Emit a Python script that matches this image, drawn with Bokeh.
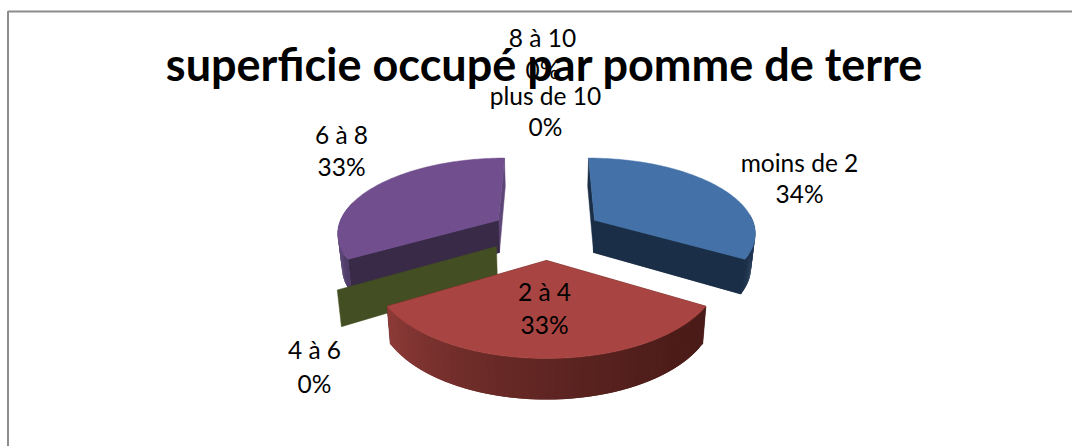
import math
from bokeh.plotting import figure
from bokeh.models import Range1d
from bokeh.core.properties import value
from bokeh.embed import file_html
from bokeh.resources import INLINE

title = "superficie occupé par pomme de terre"
categories = ["moins de 2", "2 à 4", "4 à 6", "6 à 8", "8 à 10", "plus de 10"]
shares = [33.5, 33.0, 0, 33.5, 0, 0]
percent_labels = ["34%", "33%", "0%", "33%", "0%", "0%"]
top_colors = ["#4472A8", "#A84441", "#434F22", "#714F8E", "#000000", "#000000"]
cut_colors = ["#1B2E47", "#471B18", "#434F22", "#392A47", "#000000", "#000000"]
inner_colors = ["#1B2E47", "#471B18", "#434F22", "#5F4678", "#000000", "#000000"]
label_pos = [(799, 162, 193), (544, 290.5, 323.5), (314, 349, 383), (341, 134, 166), (542, 37, 69), (545, 95, 126)]

CX, CY, A, B, PERSP, EXPLODE, DEPTH, SHRINK = 546, 232.4, 162, 74.7, 0.146, 0.35, 33, 0.98
FONT = "Lato"


def proj(x, y):
    w = 1 / (1 - PERSP * y)
    return CX + A * x * w, CY + B * y * w, w


def pt(ax, ay, a):
    return ax + math.sin(a), ay - math.cos(a)


def lower(x, y):
    sx, sy, w = proj(x, y)
    return CX + (sx - CX) * SHRINK, sy + DEPTH * w


def hexmix(c1, c2, t):
    v1 = [int(c1[i:i + 2], 16) for i in (1, 3, 5)]
    v2 = [int(c2[i:i + 2], 16) for i in (1, 3, 5)]
    return "#%02x%02x%02x" % tuple(round(a + (b - a) * t) for a, b in zip(v1, v2))


p = figure(width=1072, height=446, x_range=Range1d(0, 1072), y_range=Range1d(446, 0),
           output_backend="svg", toolbar_location=None, min_border=0, outline_line_color=None)
p.xaxis.visible = False
p.yaxis.visible = False
p.xgrid.visible = False
p.ygrid.visible = False

# chart frame, open to the right and the bottom of the picture
p.line([7.5, 7.5, 1072], [446, 11, 11], line_color="#8C8C8C", line_width=2)

total = sum(shares)
spans = []
run = 0.0
for s in shares:
    a0 = run / total * 2 * math.pi
    run += s
    spans.append((a0, run / total * 2 * math.pi))


def wall(p1, p2, color):
    a, b = proj(*p1)[:2], proj(*p2)[:2]
    c, d = lower(*p2), lower(*p1)
    p.patch([a[0], b[0], c[0], d[0]], [a[1], b[1], c[1], d[1]], fill_color=color, line_color=color, line_width=0.5)


def draw_slice(i, rim_start, rim_end):
    a0, a1 = spans[i]
    mid = (a0 + a1) / 2
    ax, ay = EXPLODE * math.sin(mid), -EXPLODE * math.cos(mid)
    start = pt(ax, ay, a0)
    end = pt(ax, ay, a1)
    # flat cut faces
    wall(start, (ax, ay), inner_colors[i])
    wall(end, (ax, ay), inner_colors[i])
    if i == 0:
        wall(end, (ax, ay), cut_colors[i])
    if i == 3:
        wall(start, (ax, ay), cut_colors[i])
    # rim, in shaded strips that overlap so no seams show
    lo = max(a0, math.radians(rim_start[0]))
    hi = min(a1, math.radians(rim_end[0]))
    n = 48
    step = (hi - lo) / n
    xs, ys, cols = [], [], []
    for k in range(n):
        t0 = lo + step * k
        t1 = min(hi, t0 + step * 2)
        q0, q1 = pt(ax, ay, t0), pt(ax, ay, t1)
        a, b = proj(*q0)[:2], proj(*q1)[:2]
        c, d = lower(*q1), lower(*q0)
        xs.append([a[0], b[0], c[0], d[0]])
        ys.append([a[1], b[1], c[1], d[1]])
        frac = k / (n - 1)
        if i == 1:
            col = hexmix("#4A1B18", "#8C3A37", frac ** 1.6)
        else:
            col = hexmix(rim_start[1], rim_end[1], frac)
        cols.append(col)
    p.patches(xs, ys, fill_color=cols, line_color=None)
    # top face
    m = 96
    tx, ty = [proj(ax, ay)[0]], [proj(ax, ay)[1]]
    for k in range(m + 1):
        q = pt(ax, ay, a0 + (a1 - a0) * k / m)
        s = proj(*q)
        tx.append(s[0])
        ty.append(s[1])
    p.patch(tx, ty, fill_color=top_colors[i], line_color=top_colors[i], line_width=0.5)


draw_slice(3, (237, "#4E3A66"), (285, "#6B5389"))
a0, a1 = spans[2]
gx, gy = EXPLODE * math.sin(a0), -EXPLODE * math.cos(a0)
wall((gx, gy), pt(gx, gy, a0), cut_colors[2])
draw_slice(0, (85, "#2A4568"), (123, "#1B2E47"))
draw_slice(1, (100, "#000000"), (260, "#000000"))

p.text([544], [63], text=[title], text_font=value(FONT), text_font_size="45px", text_font_style="bold",
       text_color="#000000", text_align="center", text_baseline="middle")
for cat, pct, (x, y1, y2) in zip(categories, percent_labels, label_pos):
    p.text([x, x], [y1, y2], text=[cat, pct], text_font=value(FONT), text_font_size="24.5px",
           text_color="#000000", text_align="center", text_baseline="middle")

with open("out.html", "w") as f:
    f.write(file_html(p, INLINE))
